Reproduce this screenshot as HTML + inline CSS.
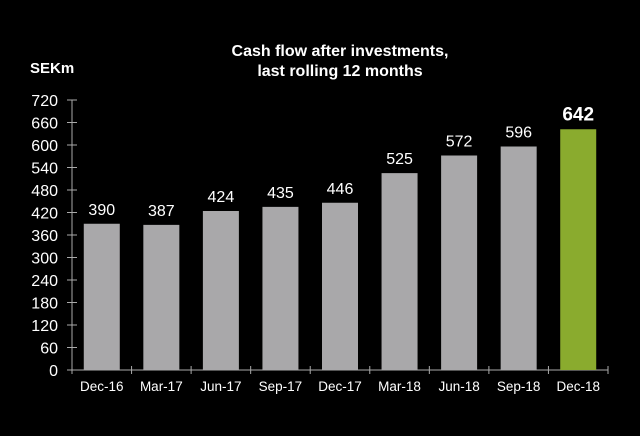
<!DOCTYPE html>
<html><head><meta charset="utf-8"><style>
body{margin:0;background:#000;width:640px;height:431px;overflow:hidden;font-family:"Liberation Sans",sans-serif}
svg text{font-family:"Liberation Sans",sans-serif}
</style></head><body>
<svg id="chart" width="640" height="431" xmlns="http://www.w3.org/2000/svg">
<rect width="640" height="431" fill="#000"/>
<text x="340" y="56" fill="#fff" font-size="16" font-weight="bold" text-anchor="middle">Cash flow after investments,</text>
<text x="340" y="76" fill="#fff" font-size="16" font-weight="bold" text-anchor="middle">last rolling 12 months</text>
<text x="30" y="73" fill="#fff" font-size="15" font-weight="bold">SEKm</text>
<g id="axes"></g><g id="bars"></g>
</svg>
<script>
const categories=["Dec-16","Mar-17","Jun-17","Sep-17","Dec-17","Mar-18","Jun-18","Sep-18","Dec-18"];
const values=[390,387,424,435,446,525,572,596,642];
const yTicks=[0,60,120,180,240,300,360,420,480,540,600,660,720];
const NS="http://www.w3.org/2000/svg";
const x0=72,x1=608,y0=370,y1=100,yMax=720;
const bw=(x1-x0)/categories.length;
const y=v=>y0-(v/yMax)*(y0-y1);
const xc=i=>x0+bw*(i+0.5);
function mk(tag,attrs,parent,txt){const e=document.createElementNS(NS,tag);for(const k in attrs)e.setAttribute(k,attrs[k]);if(txt!==undefined)e.textContent=txt;parent.appendChild(e);return e;}
const ax=document.getElementById('axes'),bg=document.getElementById('bars');
let l=mk('line',{x1:x0,y1:y1,x2:x0,y2:y0,stroke:'#aaa','stroke-width':1},ax);


l=mk('line',{x1:x0-5,y1:y0,x2:x1,y2:y0,stroke:'#aaa','stroke-width':1},ax);


yTicks.forEach(t=>{
 const tk=mk('line',{x1:x0-5,y1:y(t),x2:x0+5,y2:y(t),stroke:'#aaa'},ax);
 
 
 const tx=mk('text',{x:58,y:y(t)+6,fill:'#fff','font-size':16,'text-anchor':'end'},ax,t);
 
 
});
for(let i=0;i<=categories.length;i++){
 const tk=mk('line',{x1:x0+bw*i,y1:y0-4,x2:x0+bw*i,y2:y0+4,stroke:'#aaa'},ax);
 
 
}
categories.forEach((c,i)=>{
 const last=i===categories.length-1;
 const r=mk('rect',{x:xc(i)-18,y:y(values[i]),width:36,height:y0-y(values[i]),fill:last?'#8aab2e':'#a9a8aa'},bg);
 
 
 const v=mk('text',{x:xc(i),y:y(values[i])-9,fill:'#fff','font-size':last?19:16,'font-weight':last?'bold':'normal','text-anchor':'middle'},bg,values[i]);
 
 
 const cl=mk('text',{x:xc(i),y:391,fill:'#fff','font-size':13.5,'text-anchor':'middle'},bg,c);
 
 
});
</script>
</body></html>
